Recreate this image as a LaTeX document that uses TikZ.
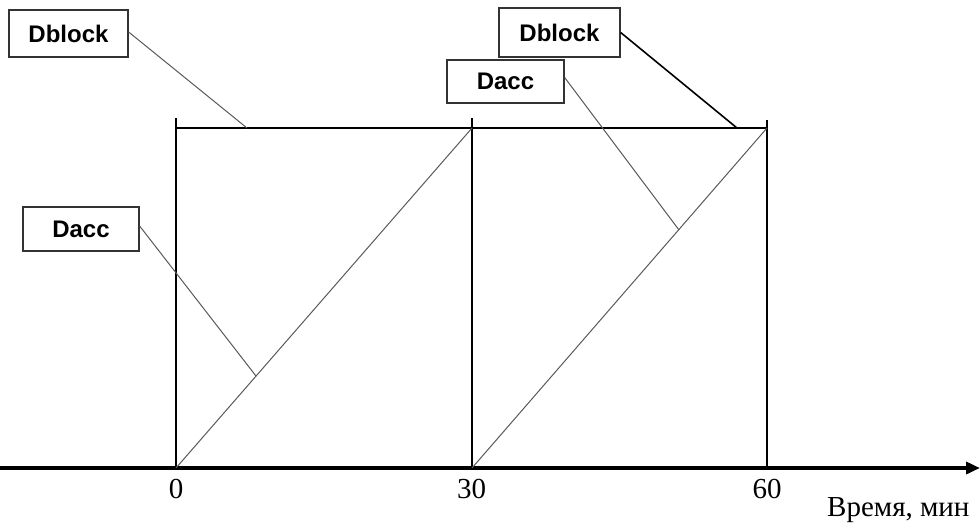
\documentclass[tikz,border=0pt]{standalone}
\usepackage{fontspec}
\setmainfont{Liberation Serif}
\newfontfamily\labfont{Liberation Sans}
\usetikzlibrary{arrows.meta}
\begin{document}
\begin{tikzpicture}[x=1pt,y=-1pt,
  lbox/.style={draw=black!80,line width=1.3pt,fill=white,inner sep=0pt,font=\labfont\bfseries\fontsize{24}{28}\selectfont},
  tline/.style={line width=2.8pt},
  diag/.style={draw=black!65,line width=1pt},
  lead/.style={draw=black!65,line width=1pt},
  tick/.style={font=\fontsize{29}{32}\selectfont,inner sep=0pt}]
\useasboundingbox (0,0) rectangle (980,523);
% axis
\coordinate (ax0) at (0,468);
\coordinate (ax1) at (980,468);
\draw[line width=3.5pt,-{Triangle[length=14pt,width=12pt]}] (ax0) -- (ax1);
% verticals
\coordinate (b0) at (176,468); \coordinate (t0) at (176,118);
\coordinate (b1) at (472,468); \coordinate (t1) at (472,118);
\coordinate (b2) at (767,468); \coordinate (t2) at (767,120);
\draw[tline] (b0) -- (t0);
\draw[tline] (b1) -- (t1);
\draw[tline] (b2) -- (t2);
% horizontal top
\coordinate (h0) at (176,128); \coordinate (h1) at (472,128); \coordinate (h2) at (767,128);
\draw[line width=1.6pt] (h0) -- (h2);
% diagonals
\draw[diag] (b0) -- (h1);
\draw[diag] (b1) -- (h2);
% labels
\node[tick] (n0) at (176,489) {0};
\node[tick] (n30) at (471.5,489) {30};
\node[tick] (n60) at (767,489) {60};
\node[tick,anchor=base west] (tl) at (827,516) {Время, мин};
% boxes
\node[lbox,minimum width=119pt,minimum height=47pt] (db1) at (68.5,33.5) {Dblock};
\node[lbox,minimum width=121pt,minimum height=49pt] (db2) at (559.5,32.5) {Dblock};
\node[lbox,minimum width=117pt,minimum height=43pt] (da2) at (505.5,81.5) {Dacc};
\node[lbox,minimum width=116pt,minimum height=44pt] (da1) at (81,229) {Dacc};
% leader targets
\coordinate (e1) at (247,128);
\coordinate (e2) at (737,128);
\coordinate (e3) at (256,376);
\coordinate (e4) at (679,230);
\draw[lead] ([yshift=1.5pt]db1.east) -- (e1);
\draw[line width=1.6pt] (db2.east) -- (e2);
\draw[lead] ([yshift=4pt]da2.east) -- (e4);
\draw[lead] ([yshift=3pt]da1.east) -- (e3);
\end{tikzpicture}
\end{document}
